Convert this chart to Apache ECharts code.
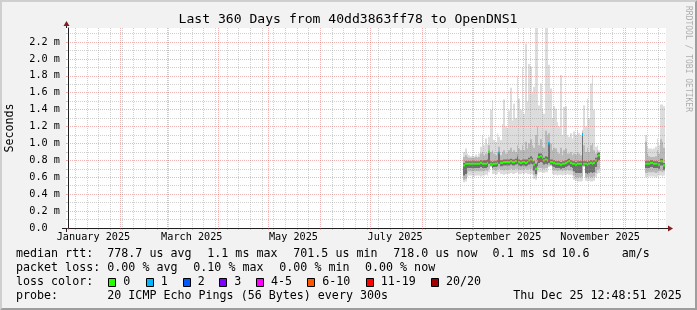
<!DOCTYPE html>
<html><head><meta charset="utf-8">
<script src="https://cdn.jsdelivr.net/npm/echarts@6/dist/echarts.min.js"></script>
<style>html,body{margin:0;padding:0;background:#F2F2F2}#c{width:697px;height:310px}</style>
</head><body><div id="c"></div>
<script>
// ---------------- data (days counted from 2025-01-01 00:00) ----------------
const segments = [[237, 82], [346, 12]];           // [first day, number of days] with data
const median = [
 0.74,0.76,0.76,0.76,0.76,0.76,0.76,0.76,0.76,0.76,
 0.77,0.76,0.76,0.76,0.77,0.90,0.76,0.75,0.76,0.76,
 0.77,0.89,0.77,0.77,0.78,0.78,0.78,0.78,0.79,0.78,
 0.78,0.79,0.86,0.78,0.77,0.78,0.78,0.77,0.78,0.80,
 0.81,0.80,0.75,0.70,0.79,0.84,0.85,0.83,0.80,0.81,
 0.80,1.00,0.78,0.78,0.77,0.76,0.76,0.76,0.75,0.76,
 0.76,0.77,0.78,0.79,0.77,0.76,0.76,0.75,0.76,0.76,
 0.76,1.11,0.76,0.76,0.75,0.76,0.77,0.76,0.77,0.80,
 0.85,0.86,
 0.76,0.76,0.76,0.77,0.77,0.76,0.76,0.76,0.75,0.79,0.79,0.74];
const smokeHi = [
 0.90,0.94,0.88,0.86,0.85,0.86,0.85,0.87,0.85,0.88,
 0.96,1.10,0.98,1.06,0.99,1.08,1.40,1.51,1.04,1.02,
 1.12,1.08,1.04,1.23,1.52,1.20,1.18,1.39,1.66,1.27,
 1.47,1.30,1.80,1.53,1.40,1.90,1.35,2.18,1.50,1.94,
 1.91,1.60,1.67,2.50,2.50,1.45,1.71,1.40,1.35,2.50,
 2.50,1.93,1.65,1.30,1.44,1.41,1.25,1.20,1.81,1.10,
 1.43,1.44,1.10,1.08,1.12,1.06,1.14,1.10,1.16,1.12,
 1.10,1.16,1.45,1.20,1.53,1.30,1.71,1.81,1.40,0.96,
 0.98,0.92,
 1.10,0.97,0.94,0.94,0.93,0.94,0.96,1.06,0.98,1.46,1.46,1.44];
const smokeHi2 = [
 0.84,0.86,0.84,0.83,0.83,0.83,0.83,0.84,0.83,0.84,
 0.88,0.90,0.86,0.88,0.88,0.98,0.90,0.92,0.88,0.86,
 0.90,0.96,0.86,0.90,0.92,0.88,0.88,0.92,0.95,0.90,
 0.92,0.90,0.98,0.94,0.92,0.98,0.92,1.02,0.94,1.00,
 1.05,0.98,0.95,1.10,1.20,0.98,1.05,0.96,0.95,1.15,
 1.10,1.12,1.00,0.92,0.95,0.94,0.90,0.88,0.95,0.86,
 0.92,0.94,0.88,0.88,0.90,0.86,0.88,0.87,0.90,0.88,
 0.86,1.14,0.98,0.90,0.95,0.90,0.98,1.00,0.92,0.88,
 0.92,0.90,
 1.02,0.88,0.85,0.84,0.84,0.84,0.85,0.92,0.88,1.05,1.02,0.95];
const smokeHi3 = [
 0.77,0.79,0.79,0.79,0.79,0.79,0.79,0.79,0.79,0.79,
 0.80,0.79,0.80,0.80,0.81,0.90,0.79,0.78,0.79,0.79,
 0.80,0.89,0.80,0.80,0.81,0.81,0.81,0.81,0.82,0.81,
 0.81,0.82,0.86,0.81,0.80,0.81,0.81,0.81,0.81,0.83,
 0.85,0.83,0.79,0.76,0.83,0.88,0.88,0.86,0.83,0.85,
 0.84,1.00,0.81,0.81,0.80,0.79,0.79,0.79,0.78,0.79,
 0.79,0.80,0.81,0.82,0.80,0.79,0.79,0.78,0.79,0.79,
 0.79,1.11,0.79,0.79,0.78,0.79,0.80,0.79,0.80,0.83,
 0.88,0.89,
 0.79,0.79,0.79,0.80,0.80,0.79,0.79,0.79,0.78,0.82,0.82,0.77];
const smokeLo3 = [
 0.62,0.64,0.71,0.71,0.71,0.71,0.71,0.71,0.71,0.71,
 0.72,0.71,0.71,0.71,0.72,0.76,0.74,0.71,0.72,0.72,
 0.73,0.76,0.73,0.73,0.74,0.74,0.74,0.74,0.75,0.74,
 0.74,0.75,0.76,0.74,0.73,0.74,0.74,0.73,0.74,0.75,
 0.76,0.75,0.68,0.64,0.73,0.77,0.78,0.77,0.75,0.76,
 0.75,0.77,0.75,0.73,0.72,0.71,0.71,0.71,0.70,0.71,
 0.71,0.72,0.73,0.74,0.72,0.71,0.67,0.65,0.65,0.65,
 0.65,0.74,0.74,0.65,0.64,0.65,0.66,0.65,0.66,0.72,
 0.78,0.80,
 0.71,0.71,0.71,0.72,0.72,0.71,0.71,0.71,0.70,0.74,0.74,0.69];
const smokeLo2 = [
 0.57,0.58,0.65,0.67,0.67,0.67,0.67,0.67,0.67,0.67,
 0.67,0.67,0.67,0.68,0.67,0.70,0.73,0.69,0.69,0.68,
 0.69,0.70,0.69,0.69,0.68,0.69,0.69,0.69,0.70,0.69,
 0.69,0.70,0.70,0.69,0.69,0.70,0.69,0.70,0.69,0.70,
 0.70,0.68,0.63,0.61,0.68,0.71,0.71,0.71,0.70,0.71,
 0.71,0.74,0.74,0.69,0.68,0.68,0.67,0.68,0.68,0.67,
 0.68,0.68,0.69,0.68,0.68,0.67,0.62,0.60,0.60,0.60,
 0.60,0.61,0.73,0.60,0.60,0.61,0.60,0.60,0.61,0.65,
 0.69,0.70,
 0.65,0.66,0.66,0.66,0.66,0.66,0.65,0.66,0.67,0.67,0.66,0.67];
const smokeLo = [
 0.54,0.55,0.60,0.62,0.62,0.62,0.61,0.62,0.62,0.62,
 0.61,0.62,0.62,0.63,0.62,0.66,0.72,0.64,0.64,0.63,
 0.64,0.66,0.64,0.64,0.63,0.64,0.64,0.64,0.65,0.64,
 0.64,0.65,0.66,0.64,0.64,0.65,0.64,0.65,0.64,0.64,
 0.64,0.63,0.58,0.57,0.63,0.66,0.66,0.66,0.65,0.66,
 0.66,0.72,0.73,0.64,0.63,0.63,0.62,0.63,0.63,0.62,
 0.63,0.63,0.64,0.63,0.63,0.62,0.57,0.56,0.55,0.55,
 0.55,0.56,0.72,0.56,0.55,0.56,0.55,0.55,0.56,0.60,
 0.64,0.65,
 0.60,0.61,0.61,0.61,0.61,0.61,0.60,0.61,0.62,0.62,0.61,0.62];
const lossOneDays = [258, 288, 308, 353];          // days with 1/20 lost
const monthLabels = ['January 2025','March 2025','May 2025','July 2025','September 2025','November 2025'];
const monthLabelDays = [15, 74, 135, 196, 258, 319];
const yMajorTicks = [0,0.2,0.4,0.6,0.8,1.0,1.2,1.4,1.6,1.8,2.0,2.2];
const yMinorTicks = [0.1,0.3,0.5,0.7,0.9,1.1,1.3,1.5,1.7,1.9,2.1,2.3];
const rttStats = ['778.7 us avg','1.1 ms max','701.5 us min','718.0 us now','0.1 ms sd','10.6','am/s'];
const lossStats = ['0.00 % avg','0.10 % max','0.00 % min','0.00 % now'];
const lossLabels = ['0','1','2','3','4-5','6-10','11-19','20/20'];
const lossColors = ['#26ff00','#00b8ff','#0059ff','#7e00ff','#ff00ff','#ff5500','#ff0000','#a10000'];

// ---------------- layout ----------------
const W = 697, H = 310;
const PL = 66, PT = 28, PW = 600, PH = 200;
const Y_MAX = 2.3655;
const t0 = Date.UTC(2025, 0, 1);
const tEnd = Date.UTC(2025, 11, 25, 12, 48, 51);
const X_MAX = (tEnd - t0) / 864e5;
const X_MIN = X_MAX - 360;
const monthStarts = [];
for (let m = 0; m < 12; m++) monthStarts.push((Date.UTC(2025, m, 1) - t0) / 864e5);
const weekLines = [];
for (let d = 4; d < X_MAX; d += 7) if (monthStarts.indexOf(d) < 0) weekLines.push(d);

const MAJOR = 'rgba(222,79,79,0.42)', MINOR = 'rgba(143,143,143,0.42)';
const MONO = '"DejaVu Sans Mono", monospace';

const days = [];
segments.forEach(([s, n]) => { for (let j = 0; j < n; j++) days.push(s + j); });
const smokeData = days.map((d, i) => [d, smokeLo[i], smokeLo2[i], smokeLo3[i], smokeHi3[i], smokeHi2[i], smokeHi[i], median[i], lossOneDays.indexOf(d) >= 0 ? 1 : 0]);

function renderSmoke(params, api) {
  const d = api.value(0);
  const cs = params.coordSys;
  const xa = Math.round(api.coord([d, 0])[0]);
  const xb = Math.round(api.coord([d + 1, 0])[0]);
  const w = xb - xa;
  const top = cs.y, bot = cs.y + cs.height;
  const py = v => Math.min(bot, Math.max(top, api.coord([d, v])[1]));
  const band = (a, b, fill) => {
    const y1 = py(b), y0 = py(a);
    return {type: 'rect', shape: {x: xa, y: Math.min(y0, y1), width: w, height: Math.abs(y0 - y1)}, style: {fill: fill}};
  };
  const ym = py(api.value(7));
  return {type: 'group', children: [
    band(api.value(1), api.value(6), '#dcdcdc'),
    band(api.value(2), api.value(5), '#b9b9b9'),
    band(api.value(3), api.value(4), '#707070'),
    {type: 'rect', shape: {x: xa, y: ym - 1.1, width: w, height: 2.2}, style: {fill: api.value(8) ? lossColors[1] : lossColors[0]}}
  ]};
}

// ---------------- graphic (frame, title, legend) ----------------
const g = [];
g.push({type: 'polygon', silent: true, z: 1, shape: {points: [[0,H],[2,H-2],[2,2],[W-2,2],[W,0],[0,0]]}, style: {fill: '#CFCFCF'}});
g.push({type: 'polygon', silent: true, z: 1, shape: {points: [[2,H-2],[W-2,H-2],[W-2,2],[W,0],[W,H],[0,H]]}, style: {fill: '#9E9E9E'}});
// axis overhangs and arrows (rrdtool style)
g.push({type: 'line', silent: true, z: 20, shape: {x1: PL-4, y1: PT+PH+0.5, x2: PL, y2: PT+PH+0.5}, style: {stroke: '#1F1F1F', lineWidth: 1}});
g.push({type: 'line', silent: true, z: 20, shape: {x1: PL+PW, y1: PT+PH+0.5, x2: PL+PW+4, y2: PT+PH+0.5}, style: {stroke: '#1F1F1F', lineWidth: 1}});
g.push({type: 'line', silent: true, z: 20, shape: {x1: PL+0.5, y1: PT+PH, x2: PL+0.5, y2: PT+PH+4}, style: {stroke: '#1F1F1F', lineWidth: 1}});
g.push({type: 'line', silent: true, z: 20, shape: {x1: PL+0.5, y1: PT-4, x2: PL+0.5, y2: PT}, style: {stroke: '#1F1F1F', lineWidth: 1}});
g.push({type: 'polygon', silent: true, z: 21, shape: {points: [[PL+PW+2, PT+PH-3+0.5],[PL+PW+2, PT+PH+3+0.5],[PL+PW+7, PT+PH+0.5]]}, style: {fill: '#801F1F'}});
g.push({type: 'polygon', silent: true, z: 21, shape: {points: [[PL-3+0.5, PT-2],[PL+3+0.5, PT-2],[PL+0.5, PT-7]]}, style: {fill: '#801F1F'}});
const txt = (x, y, text, size, align) => ({type: 'text', silent: true, z: 20, x: x, y: y,
  style: {text: text, font: size + 'px ' + MONO, fill: '#000', align: align || 'left', verticalAlign: 'middle'}});
g.push(txt(348, 19.3, 'Last 360 Days from 40dd3863ff78 to OpenDNS1', 13.1, 'center'));
g.push({type: 'text', silent: true, z: 20, x: 10, y: 128, rotation: Math.PI / 2,
  style: {text: 'Seconds', font: '11.67px ' + MONO, fill: '#000', align: 'center', verticalAlign: 'middle'}});
g.push({type: 'text', silent: true, z: 20, x: 688, y: 59, rotation: -Math.PI / 2,
  style: {text: 'RRDTOOL / TOBI OETIKER', font: '8px ' + MONO, fill: 'rgba(0,0,0,0.3)', align: 'center', verticalAlign: 'middle'}});
const LF = 11.67;
const row = [254.3, 268.3, 282.3, 296];
g.push(txt(16, row[0], 'median rtt:', LF));
[107.3, 207.3, 293.3, 393.3, 492.6, 561.5, 621.7].forEach((x, i) => g.push(txt(x, row[0], rttStats[i], LF)));
g.push(txt(16, row[1], 'packet loss:', LF));
[107.3, 193.3, 279.3, 365].forEach((x, i) => g.push(txt(x, row[1], lossStats[i], LF)));
g.push(txt(16, row[2], 'loss color:', LF));
[108.3, 145.7, 182.7, 219.3, 256, 307.3, 365.7, 431].forEach((x, i) => {
  g.push({type: 'rect', silent: true, z: 20, shape: {x: Math.round(x) + 0.5, y: 278.5, width: 7, height: 8},
    style: {fill: lossColors[i], stroke: '#000', lineWidth: 1}});
  g.push(txt(x + 15, row[2], lossLabels[i], LF));
});
g.push(txt(16, row[3], 'probe:', LF));
g.push(txt(107.3, row[3], '20 ICMP Echo Pings (56 Bytes) every 300s', LF));
g.push(txt(513.3, row[3], 'Thu Dec 25 12:48:51 2025', LF));

// ---------------- chart ----------------
const chart = echarts.init(document.getElementById('c'), null, {renderer: 'canvas', width: W, height: H});
chart.setOption({
  animation: false,
  backgroundColor: '#F2F2F2',
  grid: {left: PL, top: PT, width: PW, height: PH, show: true, backgroundColor: '#ffffff', borderWidth: 0, outerBoundsMode: 'none', containLabel: false},
  xAxis: [
    {type: 'value', min: X_MIN, max: X_MAX, position: 'bottom', z: 4,
     axisLine: {show: true, lineStyle: {color: '#1F1F1F', width: 1}},
     axisTick: {show: true, length: 2, customValues: monthStarts, lineStyle: {color: MAJOR}},
     axisLabel: {show: true, customValues: monthLabelDays, margin: 4, color: '#000', fontFamily: MONO, fontSize: 10.2,
       formatter: v => monthLabels[monthLabelDays.indexOf(v)] || ''},
     splitLine: {show: true, lineStyle: {color: MAJOR, width: 1, type: [1, 1]}}},
    {type: 'value', min: X_MIN, max: X_MAX, position: 'bottom', z: 3,
     axisLine: {show: false},
     axisTick: {show: true, length: 2, customValues: weekLines, lineStyle: {color: MINOR}},
     axisLabel: {show: false},
     splitLine: {show: true, lineStyle: {color: MINOR, width: 1, type: [1, 1]}}}
  ],
  yAxis: [
    {type: 'value', min: 0, max: Y_MAX, position: 'left', z: 4,
     axisLine: {show: true, lineStyle: {color: '#1F1F1F', width: 1}},
     axisTick: {show: true, length: 2, customValues: yMajorTicks, lineStyle: {color: MAJOR}},
     axisLabel: {show: true, customValues: yMajorTicks, margin: 6, color: '#000', fontFamily: MONO, fontSize: 10.2,
       formatter: v => v === 0 ? '0.0\u00a0\u00a0' : v.toFixed(1) + ' m'},
     splitLine: {show: true, lineStyle: {color: MAJOR, width: 1, type: [1, 1]}}},
    {type: 'value', min: 0, max: Y_MAX, position: 'left', z: 3,
     axisLine: {show: false},
     axisTick: {show: true, length: 2, customValues: yMinorTicks, lineStyle: {color: MINOR}},
     axisLabel: {show: false},
     splitLine: {show: true, lineStyle: {color: MINOR, width: 1, type: [1, 1]}}}
  ],
  series: [
    {type: 'custom', xAxisIndex: 0, yAxisIndex: 0, z: 2, clip: true, silent: true,
     renderItem: renderSmoke, encode: {x: 0, y: [1, 6]}, data: smokeData},
    {type: 'line', xAxisIndex: 1, yAxisIndex: 1, data: [], silent: true, showSymbol: false}
  ],
  graphic: g
});
</script>
</body></html>
